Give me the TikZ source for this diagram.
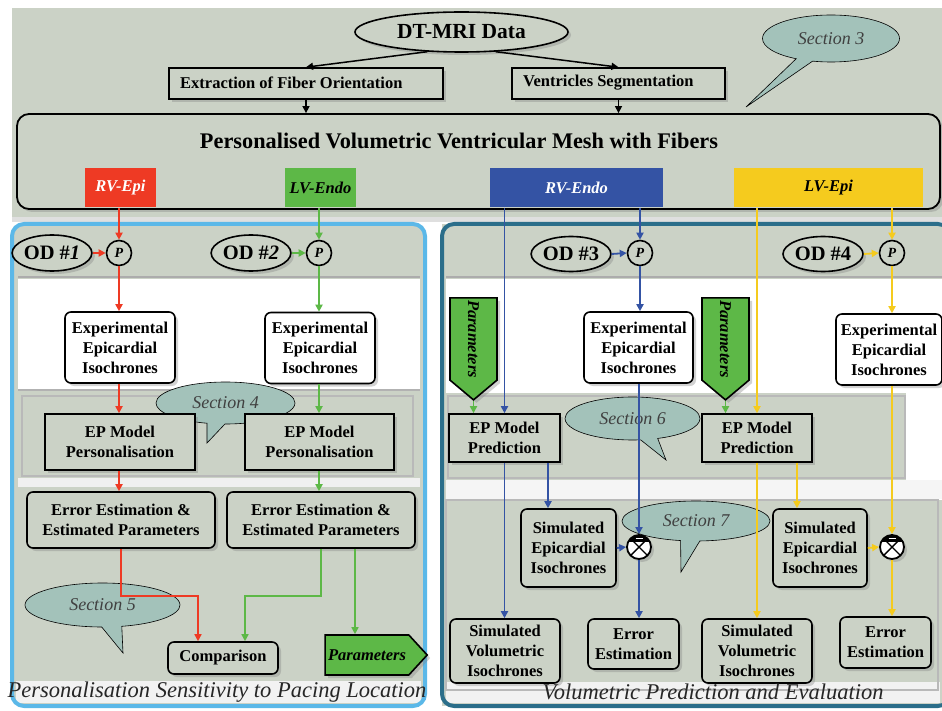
\documentclass[tikz,border=0pt]{standalone}
\usepackage{fontspec}
\setmainfont{Liberation Serif}
\usetikzlibrary{shapes.geometric,shapes.symbols,shapes.callouts,arrows.meta,calc,shadows}
\newcommand\myfs[2]{\fontsize{#1}{#2}\selectfont}
\definecolor{bgc}{HTML}{CBD2C6}
\definecolor{callc}{HTML}{A3C2BA}
\definecolor{cred}{HTML}{EE3A24}
\definecolor{cgreen}{HTML}{5DB847}
\definecolor{cblue}{HTML}{3453A4}
\definecolor{cyellow}{HTML}{F5CB1E}
\definecolor{lframe}{HTML}{5BB8E8}
\definecolor{rframe}{HTML}{2B6E8A}
\begin{document}
\begin{tikzpicture}[x=1pt,y=-1pt,
  shd/.style={drop shadow={opacity=0.35,shadow xshift=3pt,shadow yshift=-3pt}},
  rbox/.style={draw,line width=1.6pt,rounded corners=6pt,align=center,inner sep=2pt,
    font=\bfseries\myfs{16.5}{20},shd},
  wbox/.style={rbox,fill=white},
  gbox/.style={rbox,fill=bgc},
  sbox/.style={draw,line width=1.6pt,fill=bgc,align=center,inner sep=2pt,
    font=\bfseries\myfs{16.5}{20},shd},
  odell/.style={ellipse,draw,line width=1.6pt,fill=bgc,inner sep=0pt,
    font=\bfseries\myfs{20.5}{22},shd},
  pcirc/.style={circle,draw,line width=1.6pt,fill=bgc,minimum size=25pt,inner sep=0pt,
    font=\bfseries\itshape\myfs{14}{14}},
  xcirc/.style={circle,draw,line width=1.8pt,fill=white,minimum size=24pt,inner sep=0pt,shd,
    path picture={
      \draw[line width=1.4pt] (path picture bounding box.north west) -- (path picture bounding box.south east)
        (path picture bounding box.north east) -- (path picture bounding box.south west);
      \fill[black] (path picture bounding box.north west) rectangle ([yshift=-6.5pt]path picture bounding box.north east);
      \draw[white,line width=1.2pt] ([xshift=-3.5pt,yshift=-3.3pt]path picture bounding box.north) -- ++(7pt,0pt);
    }},
  callout/.style={ellipse callout,draw,line width=0.6pt,fill=callc,
    font=\itshape\myfs{18}{20},text=black!75,inner sep=0pt},
  tab/.style={minimum height=39pt,inner sep=0pt,font=\bfseries\itshape\myfs{16.5}{17}},
  parsig/.style={signal,signal to=east,signal pointer angle=95,draw,line width=1.6pt,fill=cgreen,
    font=\bfseries\itshape\myfs{16.5}{17},inner sep=2pt,shd},
  arr/.style={-{Triangle[length=7pt,width=7pt]},line width=1.8pt},
  lbl/.style={font=\itshape\myfs{22.5}{24},text=black!85}
]
\useasboundingbox (0,0) rectangle (942,711);
\fill[white] (0,0) rectangle (942,711);
% ---------- top region
\fill[bgc] (12,8) rectangle (942,217);
\fill[gray!25] (12,217) rectangle (942,222);
% ---------- left panel backgrounds
\fill[bgc,rounded corners=12pt] (12,224) rectangle (425,706);
\fill[white] (18,279) rectangle (420,389);
\fill[gray!12] (18,478) rectangle (420,487);
\fill[gray!10] (16,681) rectangle (421,703);
\draw[gray!65,line width=2.5pt] (18,277) -- (420,277);
\draw[gray!60,line width=2pt] (18,390) -- (420,390);
\draw[gray!55,line width=1.2pt] (22,396) rectangle (413,476);
% ---------- right panel backgrounds
\fill[bgc] (442,224) rectangle (942,706);
\fill[white] (446,279) rectangle (942,393);
\fill[white] (906,393) rectangle (942,500);
\fill[gray!8] (446,480) rectangle (942,499);
\fill[gray!10] (446,682) rectangle (940,703);
\draw[gray!65,line width=2.5pt] (446,277) -- (942,277);
\draw[gray!55,line width=1.5pt] (448,396) rectangle (905,478);
\draw[gray!55,line width=1.5pt] (446,500) rectangle (938,690);
% ---------- frames
\draw[lframe,line width=4pt,rounded corners=12pt] (12,224) rectangle (425,706);
\draw[rframe,line width=4pt,rounded corners=12pt] (442,224) rectangle (950,706);

% ---------- top nodes
\node[ellipse,draw,line width=1.6pt,fill=bgc,minimum width=213pt,minimum height=40pt,inner sep=0pt,
  font=\bfseries\myfs{21.5}{22},shd] (dt) at (461.5,32) {DT-MRI Data};
\node[draw,line width=1.6pt,fill=bgc,minimum width=274pt,minimum height=31pt,inner sep=0pt,shd] (ext) at (306,83.5) {};
\node[anchor=west,inner sep=0pt,font=\bfseries\myfs{16.5}{17}] (extt) at (180,82.5) {Extraction of Fiber Orientation};
\node[draw,line width=1.6pt,fill=bgc,minimum width=213pt,minimum height=31pt,inner sep=0pt,shd] (seg) at (618.5,83.5) {};
\node[anchor=west,inner sep=0pt,font=\bfseries\myfs{16.5}{17}] (segt) at (523,82.5) {Ventricles Segmentation};
\node[callout,minimum width=137pt,minimum height=47pt,callout absolute pointer={(746,107)}] (s3) at (831,38.5) {Section 3};
\draw[arr,line width=1.5pt] (dt.210) -- (ext.north);
\draw[arr,line width=1.5pt] (dt.330) -- (seg.north);
\node[draw,line width=1.8pt,rounded corners=12pt,fill=bgc,minimum width=923pt,minimum height=95pt,shd] (mesh) at (478.5,161.5) {};
\draw[arr,line width=1.5pt] (ext.south) -- (ext.south |- mesh.north);
\draw[arr,line width=1.5pt] (seg.south) -- (seg.south |- mesh.north);
\node[font=\bfseries\myfs{22.3}{24}] (meshtitle) at (459,141) {Personalised Volumetric Ventricular Mesh with Fibers};
\node[tab,fill=cred,minimum width=71pt,text=white] (rvepi) at (120.5,188) {RV-Epi};
\node[tab,fill=cgreen,minimum width=71pt] (lvendo) at (320.5,188) {LV-Endo};
\node[tab,fill=cblue,minimum width=173pt,text=white] (rvendo) at (576.5,188) {RV-Endo};
\node[tab,fill=cyellow,minimum width=189pt] (lvepi) at (828.5,188) {LV-Epi};

% ---------- left panel nodes
\node[odell,minimum width=78pt,minimum height=36pt] (od1) at (52,253) {OD \#\textit{1}};
\node[pcirc] (p1) at (119,253) {P};
\node[odell,minimum width=78pt,minimum height=36pt] (od2) at (251,253) {OD \#\textit{2}};
\node[pcirc] (p2) at (319,253) {P};
\node[wbox,minimum width=110pt,minimum height=71pt] (exp1) at (120,347.5) {Experimental\\Epicardial\\Isochrones};
\node[wbox,minimum width=110pt,minimum height=71pt] (exp2) at (320,348) {Experimental\\Epicardial\\Isochrones};
\node[callout,minimum width=139pt,minimum height=42pt,callout absolute pointer={(207,443)}] (s4) at (225.5,403) {Section 4};
\node[sbox,minimum width=150pt,minimum height=56pt] (ep1) at (120,442) {EP Model\\Personalisation};
\node[sbox,minimum width=149pt,minimum height=56pt] (ep2) at (319.5,442) {EP Model\\Personalisation};
\node[gbox,minimum width=188pt,minimum height=56pt] (err1) at (121,520) {Error Estimation \&\\Estimated Parameters};
\node[gbox,minimum width=188pt,minimum height=56pt] (err2) at (321,520) {Error Estimation \&\\Estimated Parameters};
\node[callout,minimum width=155pt,minimum height=44pt,callout absolute pointer={(123,653)}] (s5) at (102.5,605) {Section 5};
\node[gbox,minimum width=110pt,minimum height=32pt] (comp) at (223,658) {Comparison};
\node[parsig,minimum width=102pt,minimum height=40pt] (par1) at (367,655) {Parameters};
\node[lbl] (lab1) at (217,692) {Personalisation Sensitivity to Pacing Location};

% left arrows
\draw[arr,cred] (p1.north |- rvepi.south) -- (p1.north);
\draw[arr,cred] (od1.east) -- (p1.west);
\draw[arr,cred] (p1.south) -- (p1.south |- exp1.north);
\draw[arr,cred] (p1.south |- exp1.south) -- (p1.south |- ep1.north);
\draw[arr,cred] (p1.south |- ep1.south) -- (p1.south |- err1.north);
\draw[arr,cred,line width=1.5pt] (err1.south) -- ++(0,47) -| ([xshift=-25pt]comp.north);
\draw[arr,cgreen] (p2.north |- lvendo.south) -- (p2.north);
\draw[arr,cgreen] (od2.east) -- (p2.west);
\draw[arr,cgreen] (p2.south) -- (p2.south |- exp2.north);
\draw[arr,cgreen] (p2.south |- exp2.south) -- (p2.south |- ep2.north);
\draw[arr,cgreen] (p2.south |- ep2.south) -- (p2.south |- err2.north);
\draw[arr,cgreen,line width=1.5pt] (err2.south) -- ++(0,47) -| ([xshift=22pt]comp.north);
\draw[arr,cgreen,line width=1.5pt] ([xshift=34pt]err2.south) -- ([xshift=34pt]err2.south |- par1.north);

% ---------- right panel nodes
\node[odell,minimum width=78pt,minimum height=35pt] (od3) at (571,254) {OD \#3};
\node[pcirc] (p3) at (640,253) {P};
\node[odell,minimum width=80pt,minimum height=35pt] (od4) at (823,254) {OD \#4};
\node[pcirc] (p4) at (892,253) {P};
\node[parsig,rotate=-90,minimum width=102pt,minimum height=47pt,signal pointer angle=100] (parA) at (473.5,339) {Parameters};
\node[parsig,rotate=-90,minimum width=102pt,minimum height=47pt,signal pointer angle=100] (parB) at (725.5,339) {Parameters};
\node[wbox,minimum width=109pt,minimum height=71pt] (exp3) at (638.5,347.5) {Experimental\\Epicardial\\Isochrones};
\node[wbox,minimum width=106pt,minimum height=71pt] (exp4) at (889,349.5) {Experimental\\Epicardial\\Isochrones};
\node[callout,minimum width=135pt,minimum height=43pt,callout absolute pointer={(666,460)}] (s6) at (632.5,418.5) {Section 6};
\node[sbox,minimum width=111pt,minimum height=48pt] (epA) at (504.5,438) {EP Model\\Prediction};
\node[sbox,minimum width=110pt,minimum height=48pt] (epB) at (757,438) {EP Model\\Prediction};
\node[callout,minimum width=148pt,minimum height=40pt,callout absolute pointer={(681,572)}] (s7) at (696,521) {Section 7};
\node[gbox,minimum width=95pt,minimum height=78pt] (seA) at (568.5,548) {Simulated\\Epicardial\\Isochrones};
\node[xcirc] (xA) at (639,547) {};
\node[gbox,minimum width=94pt,minimum height=78pt] (seB) at (820,548) {Simulated\\Epicardial\\Isochrones};
\node[xcirc] (xB) at (892,547) {};
\node[gbox,minimum width=110pt,minimum height=64pt] (svA) at (505,651) {Simulated\\Volumetric\\Isochrones};
\node[gbox,minimum width=91pt,minimum height=50pt] (erA) at (633.5,644) {Error\\Estimation};
\node[gbox,minimum width=110pt,minimum height=64pt] (svB) at (757,651) {Simulated\\Volumetric\\Isochrones};
\node[gbox,minimum width=91pt,minimum height=51pt] (erB) at (885.5,642.5) {Error\\Estimation};
\node[lbl] (lab2) at (713,692) {Volumetric Prediction and Evaluation};

% right arrows blue
\draw[arr,cblue] (rvendo.south -| epA.north) -- (epA.north);
\draw[arr,cblue] (rvendo.south -| p3.north) -- (p3.north);
\draw[arr,cblue] (od3.east) -- (p3.west);
\draw[arr,cblue] (p3.south) -- (p3.south |- exp3.north);
\draw[arr,cblue] (xA.north |- exp3.south) -- (xA.north);
\draw[arr,cgreen] (parA.east) -- (parA.east |- epA.north);
\draw[arr,cblue] (epA.south) -- (epA.south |- svA.north);
\draw[arr,cblue] ([xshift=43.5pt]epA.south) -- ([xshift=43.5pt]epA.south |- seA.north);
\draw[arr,cblue] (seA.east) -- (xA.west);
\draw[arr,cblue] (xA.south) -- (xA.south |- erA.north);
% right arrows yellow
\draw[arr,cyellow] (lvepi.south -| epB.north) -- (epB.north);
\draw[arr,cyellow] (lvepi.south -| p4.north) -- (p4.north);
\draw[arr,cyellow] (od4.east) -- (p4.west);
\draw[arr,cyellow] (p4.south) -- (p4.south |- exp4.north);
\draw[arr,cyellow] (xB.north |- exp4.south) -- (xB.north);
\draw[arr,cgreen] (parB.east) -- (parB.east |- epB.north);
\draw[arr,cyellow] (epB.south) -- (epB.south |- svB.north);
\draw[arr,cyellow] ([xshift=40pt]epB.south) -- ([xshift=40pt]epB.south |- seB.north);
\draw[arr,cyellow] (seB.east) -- (xB.west);
\draw[arr,cyellow] (xB.south) -- (xB.south |- erB.north);
\end{tikzpicture}
\end{document}
